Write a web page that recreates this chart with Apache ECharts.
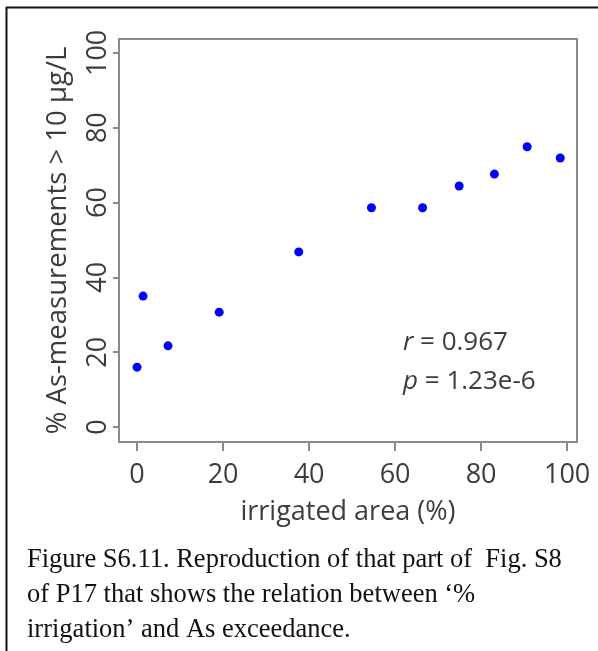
<!DOCTYPE html>
<html>
<head>
<meta charset="utf-8">
<script src="https://cdn.jsdelivr.net/npm/echarts@6/dist/echarts.min.js"></script>
<style>
html,body{margin:0;padding:0;background:#fff;}
#c{width:598px;height:651px;}
</style>
</head>
<body>
<div id="c"></div>
<script>
// Data
const irrigatedArea = [0, 1.4, 7.2, 19.1, 37.6, 54.5, 66.4, 74.9, 83.1, 90.7, 98.4];
const asExceedance = [16.0, 35.0, 21.7, 30.7, 46.8, 58.6, 58.6, 64.4, 67.6, 74.9, 71.9];
const xTicks = [0, 20, 40, 60, 80, 100];
const yTicks = [0, 20, 40, 60, 80, 100];
const xTitle = 'irrigated area (%)';
const yTitle = '% As-measurements > 10 µg/L';
const statR = '0.967';
const statP = '1.23e-6';
const captionLines = [
  'Figure S6.11. Reproduction of that part of  Fig. S8',
  'of P17 that shows the relation between \u2018%',
  'irrigation\u2019 and As exceedance.'
];

const points = irrigatedArea.map((x, i) => [x, asExceedance[i]]);
const sans = '"Open Sans", "Noto Sans", sans-serif';
const axisGray = '#8a8a8a';
const textGray = '#3c3c3c';

const chart = echarts.init(document.getElementById('c'), null, {renderer: 'canvas'});
chart.setOption({
  animation: false,
  backgroundColor: '#fff',
  title: [
    {
      left: 398, top: 318,
      text: '{i|r} = ' + statR + '\n{i|p} = ' + statP,
      textStyle: {
        fontFamily: sans, fontSize: 26, fontWeight: 'normal', color: textGray, lineHeight: 39,
        rich: { i: { fontStyle: 'italic', fontFamily: sans, fontSize: 26, color: textGray, lineHeight: 39 } }
      }
    },
    {
      left: 22, top: 538,
      text: captionLines.join('\n'),
      textStyle: {
        fontFamily: '"Liberation Serif", "Times New Roman", serif', fontSize: 26.5,
        fontWeight: 'normal', color: '#111', lineHeight: 35
      }
    }
  ],
  graphic: [
    { type: 'line', shape: {x1: 6, y1: 7.5, x2: 598, y2: 7.5}, style: {stroke: '#111', lineWidth: 2} },
    { type: 'line', shape: {x1: 6.5, y1: 7, x2: 6.5, y2: 651}, style: {stroke: '#111', lineWidth: 2} }
  ],
  grid: {
    left: 119, top: 39, right: 21, bottom: 209,
    show: true, borderColor: axisGray, borderWidth: 2, backgroundColor: 'transparent'
  },
  xAxis: {
    type: 'value', min: -4.2, max: 102.3,
    name: xTitle, nameLocation: 'middle', nameGap: 57,
    nameTextStyle: { fontFamily: sans, fontSize: 27, color: textGray },
    axisLine: { show: false, onZero: false },
    splitLine: { show: false },
    axisTick: { show: true, inside: false, length: 9, customValues: xTicks, lineStyle: { color: axisGray, width: 2 } },
    axisLabel: { customValues: xTicks, margin: 20, fontFamily: sans, fontSize: 27, color: textGray }
  },
  yAxis: {
    type: 'value', min: -4, max: 103.7,
    name: yTitle, nameLocation: 'middle', nameGap: 47, nameRotate: 90,
    nameTextStyle: { fontFamily: sans, fontSize: 27.5, color: textGray },
    axisLine: { show: false, onZero: false },
    splitLine: { show: false },
    axisTick: { show: true, inside: false, length: 6, customValues: yTicks, lineStyle: { color: axisGray, width: 2 } },
    axisLabel: { customValues: yTicks, rotate: 90, margin: 7, fontFamily: sans, fontSize: 27, color: textGray }
  },
  series: [{
    type: 'scatter',
    data: points,
    symbol: 'circle',
    symbolSize: 9,
    itemStyle: { color: '#0000ff', opacity: 1 }
  }]
});
</script>
</body>
</html>
